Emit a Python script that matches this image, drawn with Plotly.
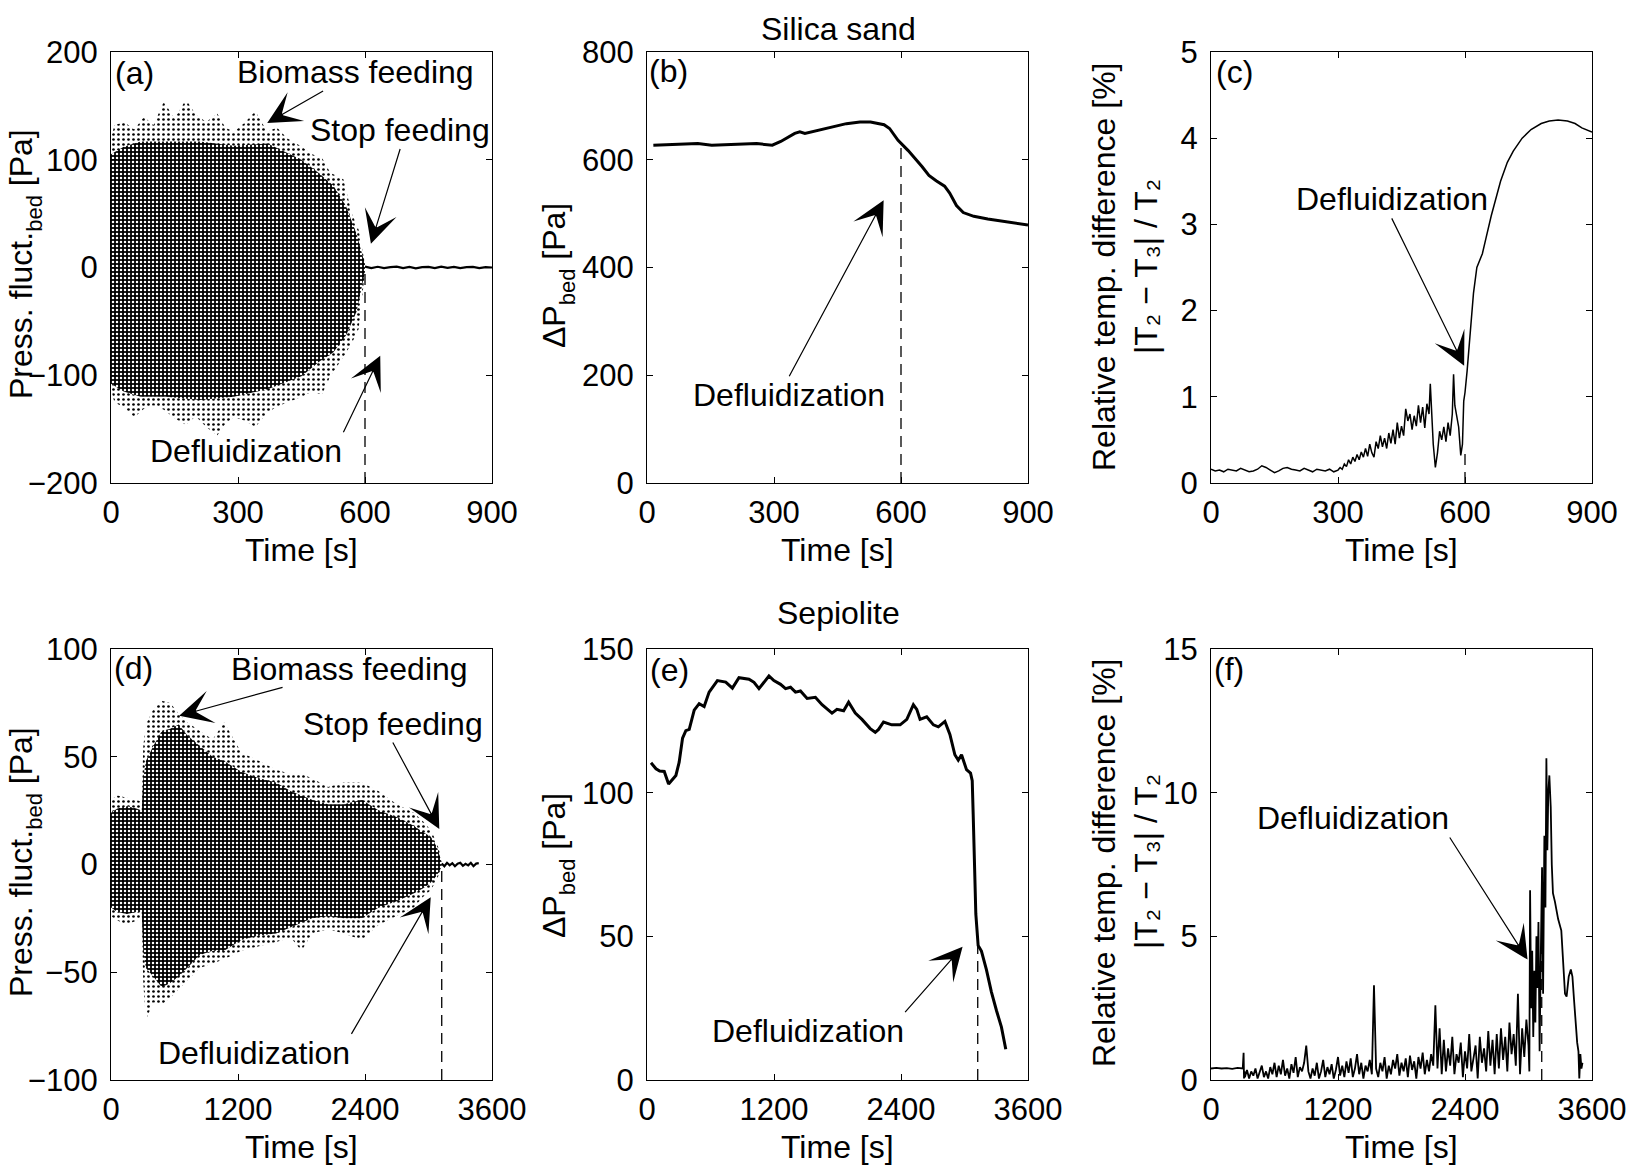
import plotly.graph_objects as go

# ---------------- data ----------------
# (a) Silica sand: pressure fluctuations, envelope of the dense scatter cloud
a_t = [0, 30, 70, 130, 210, 290, 370, 450, 490, 525, 555, 580, 592, 600]
a_core_hi = [105, 112, 117, 117, 117, 113, 115, 100, 88, 76, 57, 31, 13, 3]
a_core_lo = [-108, -115, -120, -120, -123, -120, -113, -101, -88, -79, -63, -41, -19, -4]
a_out_t = [0, 8, 31, 55, 78, 100, 125, 150, 177, 200, 225, 251, 270, 290, 315, 341, 369,
           392, 416, 451, 475, 498, 518, 549, 569, 585, 600]
a_out_hi = [120, 132, 135, 128, 140, 132, 154, 138, 156, 142, 135, 143, 130, 126, 134, 145, 126,
            130, 120, 112, 105, 102, 88, 82, 50, 35, 3]
a_out_lo = [-113, -125, -130, -139, -131, -128, -132, -140, -146, -138, -148, -156, -145, -139, -142, -148, -135,
            -129, -125, -120, -115, -118, -101, -83, -70, -57, -4]
a_tail_t = [600, 615, 630, 645, 660, 675, 690, 705, 720, 735, 750, 765, 780, 795, 810, 825, 840, 855, 870, 885, 900]
a_tail_v = [0.8, -0.6, 0.7, -0.5, 0.3, 0.8, -0.6, 0.5, -0.8, 0.3, 0.6, -0.5, 0.8, -0.3, 0.5, -0.6, 0.3, 0.6, -0.5, 0.3, 0]

# (b) Silica sand: bed pressure drop
b_t = [15, 47, 80, 120, 153, 186, 226, 259, 296, 316, 349, 361, 373, 406, 438, 471, 503, 528, 560, 573,
       593, 617, 650, 666, 683, 703, 715, 731, 747, 772, 805, 837, 870, 900]
b_v = [627, 628, 629, 630, 627, 628, 628, 630, 627, 634, 649, 652, 649, 655, 662, 667, 670, 670, 665, 658,
       636, 617, 587, 571, 561, 551, 538, 515, 502, 495, 490, 486, 482, 479]

# (c) Silica sand: relative temperature difference
c_t0 = list(range(0, 301, 10))
c_v0 = [0.16, 0.14, 0.15, 0.13, 0.16, 0.15, 0.14, 0.17, 0.15, 0.13, 0.14, 0.16, 0.20, 0.18, 0.15, 0.12,
        0.14, 0.17, 0.18, 0.16, 0.15, 0.14, 0.17, 0.15, 0.13, 0.16, 0.15, 0.14, 0.16, 0.13, 0.15]
c_t1 = [305, 310, 315, 320, 325, 330, 335, 340, 345, 350, 355, 360, 365, 370, 375, 380, 385, 390, 395, 400,
        405, 410, 415, 420, 425, 430, 435, 440, 445, 450, 455, 460, 465, 470, 475, 480, 485, 490, 495, 500,
        505, 510, 515, 518, 521, 525, 530, 535, 540, 545, 550, 555, 560, 565, 570, 573, 576, 580, 585, 590,
        594, 597, 600, 605, 610, 615, 620, 628, 641, 650, 662, 684, 700, 714, 735, 756, 780, 799, 820, 842,
        860, 876, 900]
c_v1 = [0.18, 0.16, 0.22, 0.19, 0.27, 0.22, 0.30, 0.25, 0.33, 0.27, 0.36, 0.30, 0.40, 0.31, 0.45, 0.35,
        0.30, 0.48, 0.40, 0.55, 0.42, 0.52, 0.40, 0.58, 0.46, 0.62, 0.45, 0.70, 0.52, 0.66, 0.55, 0.86,
        0.72, 0.80, 0.62, 0.78, 0.66, 0.90, 0.70, 0.88, 0.64, 0.92, 0.80, 1.15, 0.75, 0.45, 0.18, 0.35,
        0.60, 0.50, 0.65, 0.48, 0.70, 0.55, 0.80, 1.26, 0.90, 0.78, 0.65, 0.32, 0.45, 0.95, 1.05, 1.3,
        1.6, 2.0, 2.2, 2.5, 2.66, 2.85, 3.1, 3.5, 3.72, 3.85, 4.0, 4.1, 4.17, 4.2, 4.21, 4.2, 4.17, 4.12, 4.07]

# (d) Sepiolite: pressure fluctuations, envelope of the scatter cloud
d_t = [0, 60, 150, 240, 290, 305, 330, 400, 480, 560, 640, 720, 840, 960, 1070, 1230, 1400, 1560, 1700,
       1800, 1900, 2050, 2200, 2370, 2530, 2700, 2860, 2950, 3020, 3080, 3110, 3125]
d_core_hi = [24, 26, 27, 26, 25, 40, 48, 55, 62, 63, 65, 60, 55, 50, 48, 43, 40, 38, 34,
             32, 30, 28, 28, 30, 25, 22, 18, 15, 13, 8, 4, 1]
d_core_lo = [-20, -22, -23, -22, -22, -40, -48, -52, -57, -55, -52, -48, -42, -40, -40, -35, -33, -32, -29,
             -27, -25, -24, -25, -25, -20, -17, -13.5, -11, -8.5, -5, -2.5, -1]
d_out_hi = [30, 32, 31, 30, 29, 55, 65, 72, 76, 75, 70, 66, 62, 58, 66, 52, 48, 44, 42,
            42, 40, 36, 38, 38, 34, 28, 24, 20, 16, 10, 5, 1]
d_out_lo = [-24, -26, -28, -26, -25, -55, -72, -64, -65, -62, -58, -54, -48, -46, -44, -40, -38, -36, -34,
            -40, -32, -30, -32, -35, -28, -24, -20, -15, -12, -7, -3, -1]
d_tail_t = [3125, 3150, 3175, 3200, 3225, 3250, 3275, 3300, 3325, 3350, 3375, 3400, 3425, 3450, 3475]
d_tail_v = [0.5, -0.8, 0.8, -0.4, 0.6, -0.8, 0.4, 0.8, -0.6, 0.3, -0.4, 0.8, -0.8, 0.4, 0.6]

# (e) Sepiolite: bed pressure drop
e_t = [38, 85, 120, 163, 204, 242, 273, 304, 336, 367, 399, 446, 493, 540, 587, 665, 712, 744, 807, 869,
       964, 1011, 1058, 1105, 1152, 1199, 1262, 1309, 1356, 1403, 1450, 1513, 1591, 1654, 1748, 1795, 1858,
       1905, 1968, 2031, 2109, 2157, 2188, 2235, 2313, 2392, 2455, 2517, 2549, 2580, 2643, 2706, 2753, 2815,
       2862, 2909, 2941, 2972, 3019, 3057, 3073, 3082, 3098, 3107, 3129, 3160, 3207, 3254, 3302, 3349, 3390]
e_v = [110.4, 108.3, 107.5, 107.4, 103, 104.5, 106, 110.6, 119, 121.6, 122, 128.7, 131, 130, 135, 139, 138.6,
       138.5, 136.4, 140, 139.5, 138.4, 136.2, 138.4, 140.6, 139, 137.7, 136.2, 136.7, 135, 135.4, 132.8,
       133.2, 130.6, 127.7, 129, 128.5, 131.5, 127.7, 125.5, 122.3, 121, 122, 124.6, 123.6, 123.6, 125.5,
       130.6, 129, 125.5, 126.4, 123.6, 122.9, 124.8, 120.3, 113.2, 111.3, 113.2, 108, 106.8, 104.2, 92.6,
       73.3, 57.8, 46.8, 44.9, 38.4, 30.7, 24.2, 18.4, 10.7]

# (f) Sepiolite: relative temperature difference
f_t0 = [0, 50, 100, 150, 200, 250, 300, 308, 312, 316]
f_v0 = [0.4, 0.42, 0.4, 0.41, 0.39, 0.42, 0.4, 0.95, 0.05, 0.3]
f_t1 = list(range(320, 3001, 20))
f_v1 = ([0.1, 0.35, 0.05, 0.3, 0.15, 0.4, 0.05, 0.25, 0.5, 0.1, 0.3, 0.05, 0.45, 0.2, 0.6]
        + [0.1, 0.5, 0.2, 0.7, 0.15, 0.4, 0.05, 0.55, 0.25, 0.8, 0.1, 0.45, 0.3, 0.6]
        + [1.2, 0.3, 0.05, 0.4, 0.15, 0.6, 0.05, 0.3, 0.7, 0.1, 0.45, 0.2, 0.55, 0.05, 0.35, 0.8,
           0.15, 0.5, 0.1, 0.65, 0.25, 0.75, 0.1, 0.4, 0.9, 0.2, 0.6, 0.05, 0.5, 0.3, 0.7]
        + [0.2, 3.3, 0.4]
        + [0.1, 0.6, 0.3, 0.8, 0.05, 0.5, 0.2, 0.7, 0.4, 0.9, 0.15, 0.6, 0.3, 0.75, 0.1, 0.85,
           0.35, 0.65, 0.05, 0.8, 0.4, 0.95, 0.2, 0.7, 0.3, 0.9, 0.5]
        + [2.6, 0.4, 1.8, 0.2, 1.4]
        + [0.3, 1.1, 0.5, 1.5, 0.2, 0.9, 0.6, 1.3, 0.1, 1.0, 0.4, 1.6, 0.3, 0.8, 1.2, 0.05, 1.5,
           0.6, 1.1, 0.3, 1.7, 0.5, 1.4, 0.2, 1.6]
        + [0.4, 1.8, 0.7, 1.5, 0.3, 2.0, 0.9, 1.6, 0.5, 3.0, 0.2, 1.8, 0.8, 2.1, 1.2])
f_t2 = [3008, 3015, 3025, 3035, 3045, 3055, 3065, 3075, 3085, 3094, 3105, 3115, 3128, 3138, 3150, 3160,
        3169, 3178, 3187, 3197, 3210, 3220, 3231, 3250, 3280, 3310, 3330, 3345, 3360, 3380, 3400, 3415,
        3430, 3445, 3460, 3472, 3480, 3490, 3500, 3510]
f_v2 = [0.3, 6.6, 2.5, 4.5, 1.5, 3.8, 2.0, 5.0, 3.2, 5.5, 1.0, 4.0, 7.4, 3.0, 8.5, 6.0, 11.2, 8.0, 10.0,
        10.6, 9.5, 7.5, 6.5, 6.2, 5.6, 5.2, 4.0, 3.0, 2.9, 3.6, 3.85, 3.6, 2.8, 1.9, 1.3, 1.0, 0.05, 0.9,
        0.4, 0.6]

defl_silica = 600
defl_sepiolite = 3125
x_ticks_silica = [0, 300, 600, 900]
x_ticks_sepiolite = [0, 1200, 2400, 3600]

# ---------------- layout geometry ----------------
W, H = 1628, 1173
FONT = "Liberation Sans, Arial, Helvetica, sans-serif"
FS = 32
FS_TICK = 31
cols = [(111, 492), (647, 1028), (1211, 1592)]
rows = [(52, 483), (649, 1080)]


def pxx(p):
    return p / W


def pxy(p):
    return 1 - p / H


fig = go.Figure()

core_pat = dict(shape=".", bgcolor="black", fgcolor="white", size=4, solidity=0.3)
out_pat = dict(shape=".", bgcolor="white", fgcolor="black", size=5, solidity=0.22)


def band(t, hi, lo, pattern, xa, ya):
    fig.add_trace(go.Scatter(x=t + t[::-1], y=hi + lo[::-1], fill="toself", mode="lines",
                             line=dict(width=0, color="black"), fillpattern=pattern,
                             xaxis=xa, yaxis=ya, hoverinfo="skip"))


def line(t, v, xa, ya, width=1.0, dash="solid"):
    fig.add_trace(go.Scatter(x=t, y=v, mode="lines", line=dict(color="black", width=width, dash=dash),
                             xaxis=xa, yaxis=ya))


DASH = "11px,7px"
# (a)
band(a_out_t, a_out_hi, a_out_lo, out_pat, "x", "y")
band(a_t, a_core_hi, a_core_lo, core_pat, "x", "y")
line(a_tail_t, a_tail_v, "x", "y", width=2.2)
line([defl_silica, defl_silica], [-200, 0], "x", "y", width=1.3, dash=DASH)
# (b)
line(b_t, b_v, "x2", "y2", width=3)
line([defl_silica, defl_silica], [0, 625], "x2", "y2", width=1.3, dash=DASH)
# (c)
line(c_t0 + c_t1, c_v0 + c_v1, "x3", "y3", width=1.5)
line([defl_silica, defl_silica], [0, 0.35], "x3", "y3", width=1.3, dash=DASH)
# (d)
band(d_t, d_out_hi, d_out_lo, out_pat, "x4", "y4")
band(d_t, d_core_hi, d_core_lo, core_pat, "x4", "y4")
line(d_tail_t, d_tail_v, "x4", "y4", width=2.2)
line([defl_sepiolite, defl_sepiolite], [-100, 0], "x4", "y4", width=1.3, dash=DASH)
# (e)
line(e_t, e_v, "x5", "y5", width=3)
line([defl_sepiolite, defl_sepiolite], [0, 47], "x5", "y5", width=1.3, dash=DASH)
# (f)
line(f_t0 + f_t1 + f_t2, f_v0 + f_v1 + f_v2, "x6", "y6", width=1.8)
line([defl_sepiolite, defl_sepiolite], [0, 7], "x6", "y6", width=1.3, dash=DASH)

axis_common = dict(showgrid=False, zeroline=False, showline=True, linecolor="black", linewidth=1.3,
                   mirror="ticks", ticks="inside", ticklen=6, tickwidth=1.3, tickcolor="black",
                   automargin=False, tickfont=dict(family=FONT, size=FS_TICK, color="black"))

specs = [
    # (col, row, xrange, xticks, yrange, ydtick)
    (0, 0, [0, 900], x_ticks_silica, [-200, 200], 100),
    (1, 0, [0, 900], x_ticks_silica, [0, 800], 200),
    (2, 0, [0, 900], x_ticks_silica, [0, 5], 1),
    (0, 1, [0, 3600], x_ticks_sepiolite, [-100, 100], 50),
    (1, 1, [0, 3600], x_ticks_sepiolite, [0, 150], 50),
    (2, 1, [0, 3600], x_ticks_sepiolite, [0, 15], 5),
]
layout_axes = {}
for i, (c, r, xr, xt, yr, yd) in enumerate(specs):
    n = "" if i == 0 else str(i + 1)
    layout_axes["xaxis" + n] = dict(axis_common, domain=[pxx(cols[c][0]), pxx(cols[c][1])], range=xr,
                                    tickvals=xt, anchor="y" + n, ticklabelstandoff=2)
    layout_axes["yaxis" + n] = dict(axis_common, domain=[pxy(rows[r][1]), pxy(rows[r][0])], range=yr,
                                    dtick=yd, anchor="x" + n, ticklabelstandoff=6)

ann = []
tf = dict(family=FONT, size=FS, color="black")


def text(xr, yr, x, y, s):
    ann.append(dict(xref=xr, yref=yr, x=x, y=y, text=s, showarrow=False, font=tf,
                    xanchor="center", yanchor="middle"))


def label_arrow(xr, yr, s, tail, head, xanchor, yanchor):
    ann.append(dict(xref=xr, yref=yr, axref=xr, ayref=yr, x=head[0], y=head[1], ax=tail[0], ay=tail[1],
                    text=s, font=tf, xanchor=xanchor, yanchor=yanchor, borderpad=0,
                    showarrow=True, arrowhead=3, arrowsize=4.6, arrowwidth=1.2, arrowcolor="black"))


# panel labels
text("x", "y", 55, 180.5, "(a)")
text("x2", "y2", 51, 764, "(b)")
text("x3", "y3", 56, 4.77, "(c)")
text("x4", "y4", 212, 91.3, "(d)")
text("x5", "y5", 217, 142.6, "(e)")
text("x6", "y6", 171, 14.3, "(f)")

# labelled arrows (tail = point on the label box, head = pointed position)
label_arrow("x", "y", "Biomass feeding", (577, 181), (369, 134), "center", "middle")
label_arrow("x", "y", "Stop feeding", (683, 110), (614, 22), "center", "bottom")
label_arrow("x", "y", "Defluidization", (549, -153), (636, -82), "right", "top")
label_arrow("x2", "y2", "Defluidization", (336, 198), (559, 525), "center", "top")
label_arrow("x3", "y3", "Defluidization", (427, 3.07), (598, 1.36), "center", "bottom")
label_arrow("x4", "y4", "Biomass feeding", (2256, 90.8), (644, 69), "center", "middle")
label_arrow("x4", "y4", "Stop feeding", (2663, 56.6), (3102, 16.5), "center", "bottom")
label_arrow("x4", "y4", "Defluidization", (2272, -78.6), (3021, -15.2), "right", "top")
label_arrow("x5", "y5", "Defluidization", (2439, 23.6), (2982, 46.4), "right", "top")
label_arrow("x6", "y6", "Defluidization", (2256, 8.44), (2991, 4.19), "right", "bottom")

# titles
text("paper", "paper", pxx(838), pxy(29), "Silica sand")
text("paper", "paper", pxx(838), pxy(613), "Sepiolite")

# x-axis titles
for c in cols:
    for ty in (550, 1147):
        text("paper", "paper", pxx((c[0] + c[1]) / 2), pxy(ty), "Time [s]")


def ytitle(x, y, s):
    ann.append(dict(xref="paper", yref="paper", x=pxx(x), y=pxy(y), text=s, showarrow=False, font=tf,
                    textangle=-90, xanchor="center", yanchor="middle"))


SUB = '<span style="font-size:22px;baseline-shift:-10px">bed</span>'
ytitle(25, 264, "Press. fluct." + SUB + " [Pa]")
ytitle(25, 862, "Press. fluct." + SUB + " [Pa]")
ytitle(558, 276, "ΔP" + SUB + " [Pa]")
ytitle(558, 866, "ΔP" + SUB + " [Pa]")
ytitle(1104, 267, "Relative temp. difference [%]")
ytitle(1146, 267, "|T₂ − T₃| / T₂")
ytitle(1104, 863, "Relative temp. difference [%]")
ytitle(1146, 862, "|T₂ − T₃| / T₂")

fig.update_layout(template="none", width=W, height=H, margin=dict(l=0, r=0, t=0, b=0, pad=0),
                  showlegend=False, paper_bgcolor="white", plot_bgcolor="white",
                  font=dict(family=FONT, size=FS, color="black"), annotations=ann, **layout_axes)

fig.write_html("out.html")
